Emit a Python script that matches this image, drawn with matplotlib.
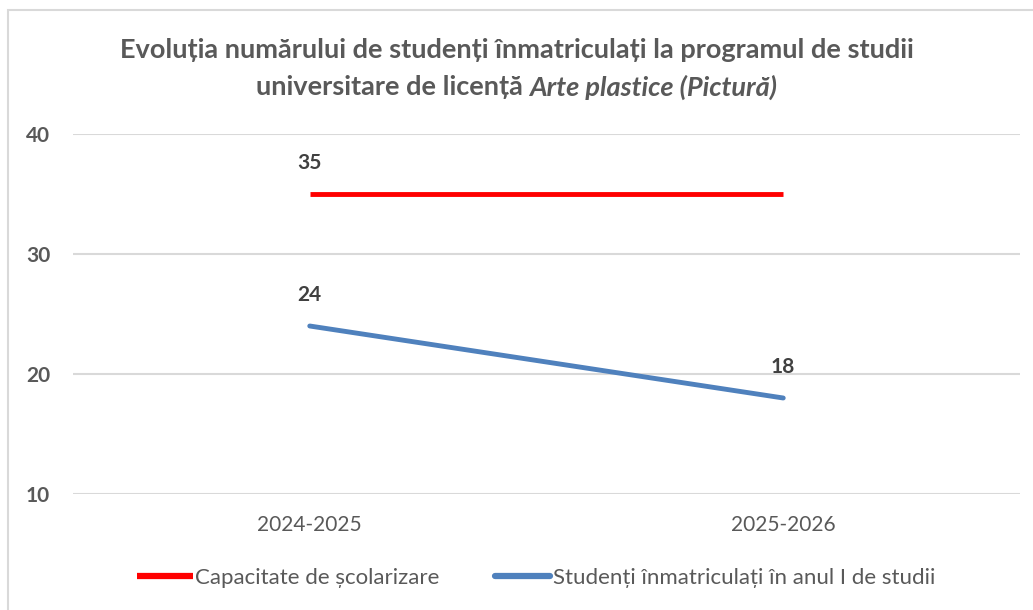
import matplotlib.pyplot as plt
import matplotlib.patches as patches

plt.rcParams['font.family'] = ['Lato', 'DejaVu Sans']

categories = ['2024-2025', '2025-2026']
capacitate = [35, 35]
inmatriculati = [24, 18]
series_names = ['Capacitate de școlarizare', 'Studenți înmatriculați în anul I de studii']
y_ticks = [10, 20, 30, 40]

W, H = 1033, 610
fig = plt.figure(figsize=(W / 100, H / 100), dpi=100)

# chenarul graficului
fig.patches.append(patches.Rectangle((8 / W, -0.05), 1.1, 1 - 10 / H + 0.05,
                                     transform=fig.transFigure, fill=False,
                                     edgecolor='#d9d9d9', linewidth=1.5))

ax = fig.add_axes([73 / W, (H - 494) / H, (1020 - 73) / W, (494 - 134) / H])
x = [0.5, 1.5]
red = '#ff0000'
blue = '#4f81bd'
ax.plot(x, capacitate, color=red, linewidth=3.5, solid_capstyle='butt', label=series_names[0])
ax.plot(x, inmatriculati, color=blue, linewidth=3.5, solid_capstyle='round', label=series_names[1])

# eticheta doar la primul punct pentru capacitate
ax.annotate(str(capacitate[0]), (x[0], capacitate[0]), xytext=(0, 31), textcoords='offset pixels',
            ha='center', va='center', fontsize=15, fontweight='bold', color='#404040')
for xi, v in zip(x, inmatriculati):
    ax.annotate(str(v), (xi, v), xytext=(0, 31), textcoords='offset pixels',
                ha='center', va='center', fontsize=15, fontweight='bold', color='#404040')

ax.set_xlim(0, 2)
ax.set_ylim(10, 40)
ax.set_yticks(y_ticks)
ax.set_yticklabels([str(v) for v in y_ticks], fontsize=15, fontweight='bold',
                   color='#595959', ha='left')
ax.set_xticks(x)
ax.set_xticklabels(categories, fontsize=15, color='#595959')
ax.tick_params(axis='x', length=0, pad=15)
ax.tick_params(axis='y', length=0, pad=47)
ax.grid(axis='y', color='#d9d9d9', linewidth=1.5)
ax.set_axisbelow(True)
for s in ax.spines.values():
    s.set_visible(False)

# titlu
fig.text(0.5, 1 - 50 / H, 'Evoluția numărului de studenți înmatriculați la programul de studii',
         ha='center', va='center', fontsize=19.5, fontweight='bold', color='#595959')
t1 = fig.text(0, 1 - 87 / H, 'universitare de licență ', ha='left', va='center',
              fontsize=19.5, fontweight='bold', color='#595959')
t2 = fig.text(0, 1 - 87 / H, 'Arte plastice (Pictură)', ha='left', va='center',
              fontsize=19.5, fontweight='bold', style='italic', color='#595959')
r = fig.canvas.get_renderer()
w1 = t1.get_window_extent(r).width
w2 = t2.get_window_extent(r).width
x0 = (W - w1 - w2) / 2
t1.set_x(x0 / W)
t2.set_x((x0 + w1) / W)

leg = fig.legend(loc='center', bbox_to_anchor=(536 / W, 1 - 578 / H), ncol=2, frameon=False,
                 fontsize=16, handlelength=2.5, handletextpad=0.1, columnspacing=2.5)
for t in leg.get_texts():
    t.set_color('#595959')
for h in leg.legend_handles:
    h.set_linewidth(4.5)

# etichetele axei Y aliniate la stanga, ca in original
fig.canvas.draw()
for lbl in ax.get_yticklabels():
    lbl.set_x(0)
    lbl.set_transform(ax.get_yaxis_transform() + plt.matplotlib.transforms.ScaledTranslation(
        -(73 - 26) / 100, 0, fig.dpi_scale_trans))

fig.savefig('out.png', dpi=100)
